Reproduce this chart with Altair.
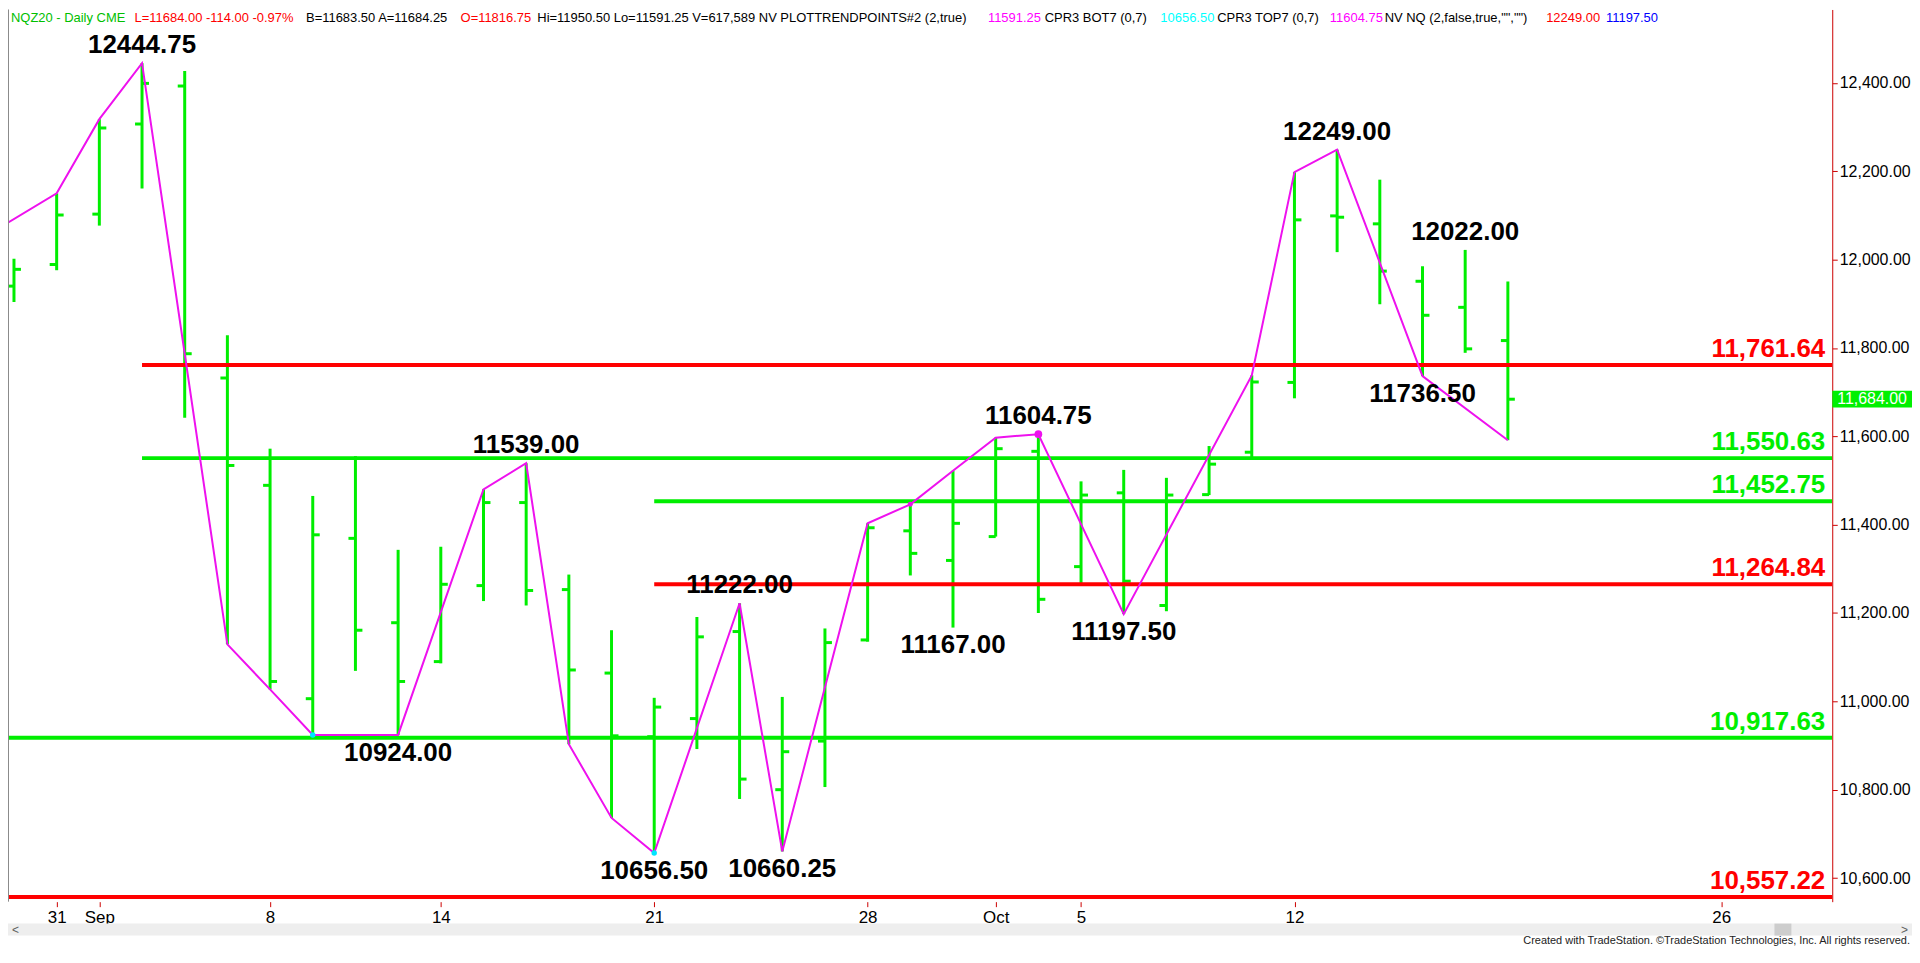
import altair as alt
import pandas as pd

# ---------------- data ----------------
bar_dates = ["Aug 28", "Aug 31", "Sep 1", "Sep 2", "Sep 3", "Sep 4", "Sep 8", "Sep 9", "Sep 10", "Sep 11",
             "Sep 14", "Sep 15", "Sep 16", "Sep 17", "Sep 18", "Sep 21", "Sep 22", "Sep 23", "Sep 24", "Sep 25",
             "Sep 28", "Sep 29", "Sep 30", "Oct 1", "Oct 2", "Oct 5", "Oct 6", "Oct 7", "Oct 8", "Oct 9",
             "Oct 12", "Oct 13", "Oct 14", "Oct 15", "Oct 16", "Oct 19"]
opens = [11940, 11989, 12103, 12307, 12393, 11732, 11489, 11006, 11369, 11178,
         11090, 11262, 11450, 11253, 11064, 10920, 10961, 11158, 10800, 10910,
         11139, 11386, 11319, 11373, 11566, 11305, 11472, 11217, 11468, 11564,
         11722, 12099, 12081, 11951, 11892, 11816.75]
highs = [12002, 12150, 12318, 12444.75, 12427, 11829, 11572, 11465, 11555, 11343,
         11350, 11480, 11539, 11287, 11161, 11008, 11191, 11222, 11010, 11165,
         11403, 11446, 11522, 11597, 11604.75, 11498, 11524, 11506, 11578, 11738,
         12198, 12249, 12181, 11985, 12022, 11950.5]
lows = [11904, 11976, 12077, 12161, 11642, 11129, 11027, 10924, 11069, 10924,
        11086, 11227, 11217, 10903, 10736, 10656.5, 10892, 10779, 10660.25, 10806,
        11135, 11285, 11167, 11373, 11200, 11268, 11197.5, 11204, 11467, 11552,
        11686, 12017, 11899, 11736.5, 11789, 11591.25]
closes = [11978, 12101, 12298, 12399, 11787, 11534, 11045, 11377, 11161, 11045,
          11265, 11450, 11251, 11071, 10922, 10987, 11146, 10824, 10886, 11133,
          11393, 11335, 11403, 11572, 11231, 11467, 11272, 11467, 11537, 11723,
          12090, 12096, 11974, 11874, 11798, 11684]

# zigzag (trend points), by bar index
zz_idx = [-1, 1, 2, 3, 5, 6, 7, 9, 11, 12, 13, 14, 15, 17, 18, 20, 21, 22, 23, 24, 26, 29, 30, 31, 33, 35]
zz_val = [12034, 12150, 12318, 12444.75, 11129, 11027, 10924, 10924, 11480, 11539, 10903, 10736, 10656.5,
          11222, 10660.25, 11403, 11446, 11522, 11597, 11604.75, 11197.5, 11738, 12198, 12249, 11736.5, 11591.25]

# pivot labels
lab_text = ["12444.75", "10924.00", "11539.00", "10656.50", "11222.00", "10660.25",
            "11167.00", "11604.75", "11197.50", "12249.00", "12022.00", "11736.50"]
lab_idx = [3, 9, 12, 15, 17, 18, 22, 24, 26, 31, 34, 33]
lab_val = [12444.75, 10924, 11539, 10656.5, 11222, 10660.25, 11167, 11604.75, 11197.5, 12249, 12022, 11736.5]
lab_side = ["above", "below", "above", "below", "above", "below",
            "below", "above", "below", "above", "above", "below"]

# horizontal levels
lvl_val = [11761.64, 11550.63, 11452.75, 11264.84, 10917.63, 10557.22]
lvl_text = ["11,761.64", "11,550.63", "11,452.75", "11,264.84", "10,917.63", "10,557.22"]
lvl_kind = ["red", "green", "green", "red", "green", "red"]
lvl_start = [3, 3, 15, 15, -1, -1]

# special markers
big_dot_idx, big_dot_val = [24], [11604.75]
small_dot_idx, small_dot_val = [21], [11446]
cyan_idx, cyan_val = [15, 7], [10656.5, 10924]

# axis ticks
tick_idx = [1, 2, 6, 10, 15, 20, 23, 25, 30, 40]
tick_lab = ["31", "Sep", "8", "14", "21", "28", "Oct", "5", "12", "26"]
y_ticks = [10600, 10800, 11000, 11200, 11400, 11600, 11800, 12000, 12200, 12400]

# header
header_text = ["NQZ20 - Daily CME", "L=11684.00 -114.00 -0.97%", "B=11683.50 A=11684.25", "O=11816.75",
               "Hi=11950.50 Lo=11591.25 V=617,589 NV PLOTTRENDPOINTS#2 (2,true)", "11591.25",
               "CPR3 BOT7 (0,7)", "10656.50", "CPR3 TOP7 (0,7)", "11604.75",
               'NV NQ (2,false,true,"","")', "12249.00", "11197.50"]
header_color = ["#00C000", "#FF0000", "#000000", "#FF0000", "#000000", "#FF00FF",
                "#000000", "#00FFFF", "#000000", "#FF00FF", "#000000", "#FF0000", "#0000FF"]
header_x = [3, 127, 299, 454, 531, 983, 1040, 1156, 1213, 1326, 1381, 1543, 1603]

# ---------------- layout / style ----------------
W, H = 1830, 895
XMIN, XMAX = -0.14, 42.6
YMIN, YMAX = 10546.5, 12566.3
GREEN = "#00EE00"
RED = "#FF0000"
MAGENTA = "#EE11EE"
AXIS_RED = "#CC0000"
SANS = "Liberation Sans, Arial, sans-serif"

xs = alt.Scale(domain=[XMIN, XMAX], nice=False, zero=False)
ys = alt.Scale(domain=[YMIN, YMAX], nice=False, zero=False)

bars = pd.DataFrame({"idx": list(range(len(opens))), "date": bar_dates,
                     "open": opens, "high": highs, "low": lows, "close": closes})
zzdf = pd.DataFrame({"idx": zz_idx, "val": zz_val})
labdf = pd.DataFrame({"idx": lab_idx, "val": lab_val, "text": lab_text, "side": lab_side})
lvldf = pd.DataFrame({"val": lvl_val, "text": lvl_text, "kind": lvl_kind, "start": lvl_start})
lvldf["color"] = lvldf["kind"].map({"red": RED, "green": GREEN})

label_expr = " : ".join(f"datum.value == {i} ? '{t}'" for i, t in zip(tick_idx, tick_lab)) + " : ''"

x_axis = alt.Axis(values=tick_idx, labelExpr=label_expr, grid=False, domain=False,
                  tickColor=AXIS_RED, tickSize=5, tickWidth=1, labelFont=SANS, labelFontSize=17,
                  labelColor="black", labelPadding=3, title=None, labelFlush=False, labelOverlap=False)
y_axis = alt.Axis(orient="right", values=y_ticks, format=",.2f", grid=False, domain=True,
                  domainColor=AXIS_RED, domainWidth=1, tickColor=AXIS_RED, tickSize=5,
                  labelFont=SANS, labelFontSize=16, labelColor="black", labelPadding=2, title=None)


def X(field):
    return alt.X(field, scale=xs, axis=x_axis, title=None)


def Y(field):
    return alt.Y(field, scale=ys, axis=y_axis, title=None)


layers = []

# OHLC bars
layers.append(alt.Chart(bars).mark_rule(color=GREEN, strokeWidth=3).encode(
    x=X("idx:Q"), y=Y("low:Q"), y2="high:Q"))
layers.append(alt.Chart(bars).mark_rule(color=GREEN, strokeWidth=3, xOffset=-7, x2Offset=0).encode(
    x=X("idx:Q"), x2="idx:Q", y=Y("open:Q")))
layers.append(alt.Chart(bars).mark_rule(color=GREEN, strokeWidth=3, xOffset=0, x2Offset=7).encode(
    x=X("idx:Q"), x2="idx:Q", y=Y("close:Q")))

# level lines
layers.append(alt.Chart(lvldf).mark_rule(strokeWidth=4, clip=True).encode(
    x=X("start:Q"), x2=alt.datum(XMAX), y=Y("val:Q"), color=alt.Color("color:N", scale=None)))

# zigzag
layers.append(alt.Chart(zzdf).mark_line(color=MAGENTA, strokeWidth=2, clip=True).encode(
    x=X("idx:Q"), y=Y("val:Q"), order="idx:Q"))

# markers
layers.append(alt.Chart(pd.DataFrame({"idx": cyan_idx, "val": cyan_val})).mark_circle(
    color="#00E5FF", size=30, opacity=1).encode(x=X("idx:Q"), y=Y("val:Q")))
layers.append(alt.Chart(pd.DataFrame({"idx": small_dot_idx, "val": small_dot_val})).mark_circle(
    color=MAGENTA, size=25, opacity=1).encode(x=X("idx:Q"), y=Y("val:Q")))
layers.append(alt.Chart(pd.DataFrame({"idx": big_dot_idx, "val": big_dot_val})).mark_circle(
    color=MAGENTA, size=60, opacity=1).encode(x=X("idx:Q"), y=Y("val:Q")))

# pivot labels
layers.append(alt.Chart(labdf).transform_filter(alt.datum.side == "above").mark_text(
    font=SANS, fontWeight="bold", fontSize=26, align="center", baseline="alphabetic", dy=-10,
    color="black").encode(x=X("idx:Q"), y=Y("val:Q"), text="text:N"))
layers.append(alt.Chart(labdf).transform_filter(alt.datum.side == "below").mark_text(
    font=SANS, fontWeight="bold", fontSize=26, align="center", baseline="top", dy=5,
    color="black").encode(x=X("idx:Q"), y=Y("val:Q"), text="text:N"))

# level labels
layers.append(alt.Chart(lvldf).mark_text(
    font=SANS, fontWeight="bold", fontSize=26, align="right", baseline="alphabetic", dy=-8).encode(
    x=alt.value(W - 7), y=Y("val:Q"), text="text:N", color=alt.Color("color:N", scale=None)))

# last price box on the axis
lastdf = pd.DataFrame({"close": [closes[-1]], "text": [f"{closes[-1]:,.2f}"]})
layers.append(alt.Chart(lastdf).mark_point(
    shape="M-1,-0.21L1,-0.21L1,0.21L-1,0.21Z", size=6400, filled=True, color="#00F000",
    opacity=1, strokeWidth=0).encode(x=alt.value(W + 40), y=Y("close:Q")))
layers.append(alt.Chart(lastdf).mark_text(
    font=SANS, fontSize=16, color="white", align="center", baseline="middle").encode(
    x=alt.value(W + 40), y=Y("close:Q"), text="text:N"))

# frame line on the left
one = pd.DataFrame({"a": [0]})
layers.append(alt.Chart(one).mark_rule(color="#8A8A8A", strokeWidth=1).encode(
    x=alt.value(0.5), y=alt.value(0), y2=alt.value(H)))

# header
for t, c, hx in zip(header_text, header_color, header_x):
    layers.append(alt.Chart(pd.DataFrame({"t": [t]})).mark_text(
        font=SANS, fontSize=13, color=c, align="left", baseline="top").encode(
        x=alt.value(hx), y=alt.value(3), text="t:N"))

# scrollbar and footer
layers.append(alt.Chart(one).mark_rect(color="#EEEEEE").encode(
    x=alt.value(0), x2=alt.value(W + 80), y=alt.value(917), y2=alt.value(929)))
layers.append(alt.Chart(one).mark_rect(color="#CDCDCD").encode(
    x=alt.value(1772), x2=alt.value(1789), y=alt.value(917), y2=alt.value(929)))
layers.append(alt.Chart(pd.DataFrame({"t": ["<"]})).mark_text(
    font=SANS, fontSize=12, color="#606060", align="left", baseline="middle").encode(
    x=alt.value(4), y=alt.value(923), text="t:N"))
layers.append(alt.Chart(pd.DataFrame({"t": [">"]})).mark_text(
    font=SANS, fontSize=12, color="#606060", align="right", baseline="middle").encode(
    x=alt.value(W + 76), y=alt.value(923), text="t:N"))
layers.append(alt.Chart(pd.DataFrame({"t": ["Created with TradeStation. \u00a9TradeStation Technologies, Inc. All rights reserved."]})).mark_text(
    font=SANS, fontSize=11, color="#222222", align="right", baseline="alphabetic").encode(
    x=alt.value(W + 78), y=alt.value(937), text="t:N"))

chart = alt.layer(*layers).properties(
    width=W, height=H,
    autosize=alt.AutoSizeParams(type="none"),
    padding={"left": 0, "top": 0, "right": 80, "bottom": 45},
    background="white",
).configure_view(stroke=None)

chart.save("out.html", embed_options={"renderer": "svg", "actions": False})
